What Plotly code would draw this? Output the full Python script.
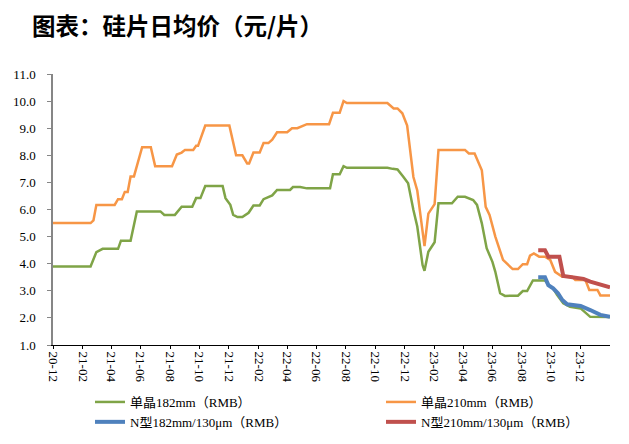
import plotly.graph_objects as go

# ---------------- data ----------------
g182_dates = ["2020-12-01","2021-02-17","2021-03-01","2021-03-14","2021-04-15","2021-04-21","2021-05-11",
              "2021-05-24","2021-07-12","2021-07-20","2021-08-11","2021-08-25","2021-09-16","2021-09-24",
              "2021-10-03","2021-10-13","2021-11-18","2021-11-24","2021-12-04","2021-12-10","2021-12-19",
              "2021-12-29","2022-01-11","2022-01-21","2022-02-03","2022-02-11","2022-03-01","2022-03-11",
              "2022-04-07","2022-04-13","2022-04-28","2022-05-12","2022-06-29","2022-07-05","2022-07-19",
              "2022-07-27","2022-08-03","2022-10-26","2022-11-06","2022-11-16","2022-11-28","2022-12-08",
              "2022-12-19","2022-12-27","2023-01-07","2023-01-11","2023-01-19","2023-02-01","2023-02-09",
              "2023-03-09","2023-03-21","2023-04-05","2023-04-22","2023-04-30","2023-05-10","2023-05-20",
              "2023-06-01","2023-06-07","2023-06-17","2023-06-27","2023-07-13","2023-07-24","2023-08-03",
              "2023-08-12","2023-08-24","2023-09-18","2023-09-29","2023-10-05","2023-10-13","2023-10-26",
              "2023-11-09","2023-12-01","2023-12-21","2024-01-31"]
g182_vals = [3.9,3.9,4.43,4.55,4.55,4.85,4.85,
             5.93,5.93,5.8,5.8,6.1,6.1,6.42,
             6.42,6.87,6.87,6.42,6.17,5.8,5.72,
             5.72,5.88,6.15,6.15,6.38,6.52,6.72,
             6.72,6.83,6.83,6.78,6.78,7.3,7.3,
             7.6,7.54,7.54,7.5,7.48,7.21,6.97,
             5.98,5.37,3.95,3.74,4.44,4.79,6.23,
             6.23,6.47,6.47,6.35,6.17,5.49,4.57,
             4.07,3.70,2.91,2.81,2.82,2.82,2.99,
             2.99,3.38,3.38,3.15,3.09,2.85,2.54,
             2.41,2.35,2.04,2.03]

g210_dates = ["2020-12-01","2021-02-17","2021-02-23","2021-03-01","2021-04-08","2021-04-15","2021-04-23",
              "2021-04-29","2021-05-05","2021-05-11","2021-05-18","2021-06-04","2021-06-22","2021-07-01",
              "2021-08-05","2021-08-15","2021-08-25","2021-09-01","2021-09-18","2021-09-24","2021-09-28",
              "2021-10-13","2021-12-02","2021-12-16","2021-12-29","2022-01-08","2022-01-12","2022-01-21",
              "2022-02-03","2022-02-11","2022-02-21","2022-03-01","2022-03-11","2022-04-01","2022-04-11",
              "2022-04-22","2022-05-12","2022-06-27","2022-07-05","2022-07-19","2022-07-27","2022-08-03",
              "2022-10-26","2022-11-08","2022-11-16","2022-11-26","2022-12-06","2022-12-19","2022-12-27",
              "2023-01-07","2023-01-11","2023-01-19","2023-02-01","2023-02-09","2023-04-05","2023-04-13",
              "2023-04-25","2023-05-10","2023-05-18","2023-05-26","2023-06-07","2023-06-23","2023-07-03",
              "2023-07-13","2023-07-24","2023-08-03","2023-08-12","2023-08-18","2023-08-26","2023-09-06",
              "2023-09-18","2023-09-29","2023-10-09","2023-10-24","2023-11-13","2023-11-20","2023-12-11",
              "2023-12-19","2024-01-05","2024-01-11","2024-01-31"]
g210_vals = [5.5,5.5,5.6,6.17,6.17,6.38,6.38,
             6.65,6.65,7.22,7.22,8.3,8.3,7.6,
             7.6,8.03,8.1,8.2,8.2,8.35,8.35,
             9.1,9.1,8.0,8.0,7.7,7.7,8.1,
             8.1,8.45,8.45,8.58,8.85,8.85,9.0,
             9.0,9.15,9.15,9.57,9.57,10.0,9.93,
             9.93,9.73,9.73,9.55,9.1,7.2,6.7,
             5.12,4.65,5.85,6.2,8.2,8.2,8.07,
             8.07,7.45,6.1,5.8,5.0,4.14,3.95,
             3.8,3.8,3.98,3.98,4.3,4.38,4.26,
             4.26,4.14,3.7,3.52,3.52,3.4,3.4,
             3.03,3.03,2.83,2.83]

n182_dates = ["2023-09-04","2023-09-18","2023-09-25","2023-10-05","2023-10-15","2023-10-24","2023-11-03",
              "2023-12-01","2023-12-21","2024-01-11","2024-01-31"]
n182_vals = [3.5,3.5,3.21,3.09,2.91,2.66,2.5,2.44,2.29,2.11,2.04]

n210_dates = ["2023-09-04","2023-09-18","2023-09-25","2023-10-18","2023-10-26","2023-11-13","2023-12-07",
              "2023-12-21","2024-01-11","2024-01-31"]
n210_vals = [4.5,4.5,4.26,4.26,3.55,3.5,3.44,3.34,3.24,3.13]

names = ["单晶182mm（RMB）", "单晶210mm（RMB）", "N型182mm/130μm（RMB）", "N型210mm/130μm（RMB）"]
title_text = "图表：硅片日均价（元/片）"

# ---------------- figure ----------------
serif = "Liberation Serif, 'Noto Sans CJK SC', serif"

fig = go.Figure()
fig.add_trace(go.Scatter(x=g182_dates, y=g182_vals, mode="lines", name=names[0],
                         line=dict(color="#7FA447", width=2.5), legend="legend", legendgroup="a"))
fig.add_trace(go.Scatter(x=g210_dates, y=g210_vals, mode="lines", name=names[1],
                         line=dict(color="#F79646", width=2.5), legend="legend2", legendgroup="c"))
fig.add_trace(go.Scatter(x=n182_dates, y=n182_vals, mode="lines", name=names[2],
                         line=dict(color="#4F81BD", width=4), legend="legend", legendgroup="b"))
fig.add_trace(go.Scatter(x=n210_dates, y=n210_vals, mode="lines", name=names[3],
                         line=dict(color="#C0504D", width=4), legend="legend2", legendgroup="d"))

# page is offset by the 8px body margin -> work in figure coordinates
W, H = 621, 436
PL, PR, PT, PB = 45, 602, 66, 337
def px_x(v):
    return (v - PL) / (PR - PL)
def px_y(v):
    return (PB - v) / (PB - PT)

leg_common = dict(orientation="v", xref="paper", yref="paper", yanchor="top", xanchor="left",
                  font=dict(family=serif, size=13, color="#000"), bgcolor="rgba(0,0,0,0)",
                  traceorder="grouped", tracegroupgap=0, itemwidth=30)

fig.update_layout(
    width=W, height=H,
    margin=dict(l=PL, r=W - PR, t=PT, b=H - PB, autoexpand=False),
    paper_bgcolor="white", plot_bgcolor="white",
    title=dict(text="<b>" + title_text + "</b>", x=24/W, xanchor="left", xref="container",
               y=1-19/H, yanchor="middle", yref="container",
               font=dict(family="'Noto Sans CJK SC', sans-serif", size=23.5, color="#000")),
    showlegend=True,
    legend=dict(x=px_x(82), y=px_y(379), **leg_common),
    legend2=dict(x=px_x(373), y=px_y(379), **leg_common),
    xaxis=dict(type="date", range=["2020-12-01", "2024-01-31"], dtick="M2", tick0="2020-12-01",
               tickformat="%y-%m", tickangle=90, showgrid=False, zeroline=False,
               showline=True, linecolor="#000", linewidth=1,
               ticks="outside", ticklen=3, tickcolor="#000",
               tickfont=dict(family=serif, size=13, color="#000")),
    yaxis=dict(range=[1, 11], dtick=1, tickformat=".1f", showgrid=False, zeroline=False,
               showline=True, linecolor="#868686", linewidth=1.5,
               ticks="outside", ticklen=4, tickcolor="#868686", ticklabelstandoff=9,
               tickfont=dict(family=serif, size=13, color="#000")),
)

fig.write_html("out.html")
